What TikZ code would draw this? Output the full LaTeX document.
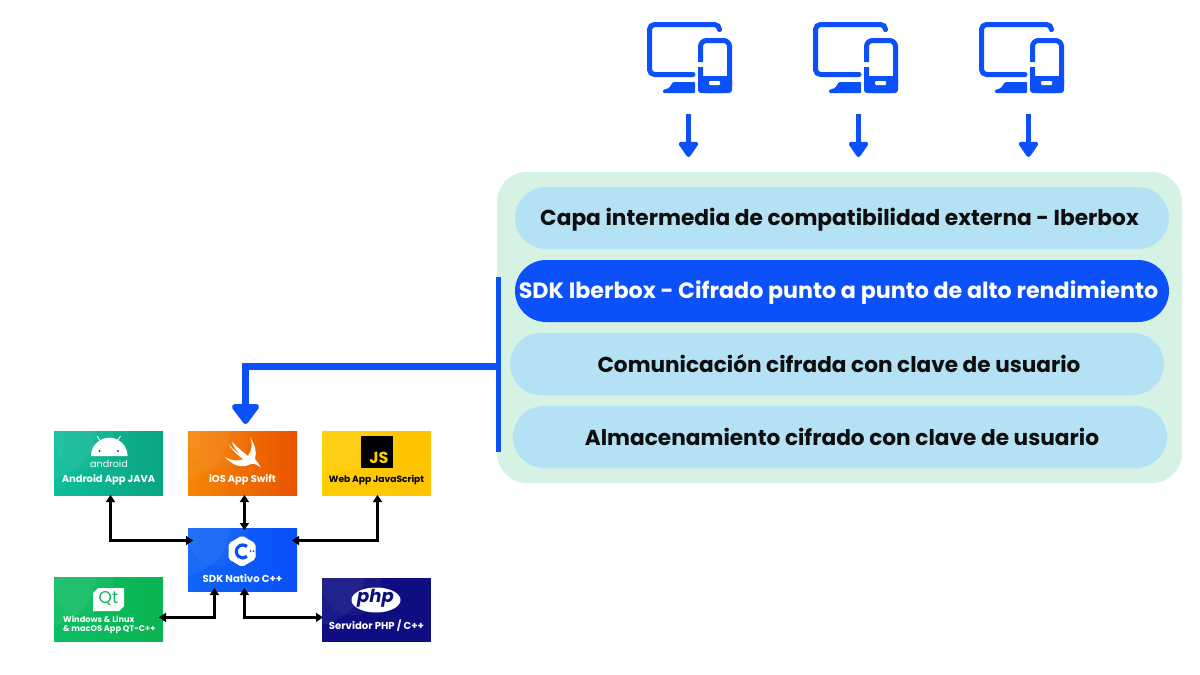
\documentclass[tikz,border=0pt]{standalone}
\usepackage{fontspec}
\setmainfont{Poppins}
\usetikzlibrary{arrows.meta,calc}
\definecolor{bluei}{HTML}{0B50F8}
\definecolor{panelg}{HTML}{D6F2E4}
\definecolor{pilll}{HTML}{B5E1F5}
\definecolor{inkd}{HTML}{0E0E0E}
\tikzset{
  x=1pt,y=-1pt,
  pill/.style={draw=none,fill=pilll,rounded corners=31pt,minimum width=654pt,minimum height=62pt,inner sep=0pt,text=inkd,text height=19pt,text depth=4pt,font=\fontsize{21.7}{24}\selectfont\bfseries},
  app/.style={draw=none,minimum width=109pt,minimum height=64pt,inner sep=0pt,
    path picture={
      \fill[white,opacity=.05] ($(path picture bounding box.north west)+(-8,-2)$) circle[radius=50pt];
      \fill[white,opacity=.04] ($(path picture bounding box.north west)+(30,8)$) circle[radius=30pt];
    }},
  lab/.style={inner sep=0pt,text=white,font=\fontsize{9.9}{11}\selectfont\bfseries},
  dbl/.style={draw=black,line width=2.8pt,{Triangle[width=9pt,length=7pt]}-{Triangle[width=9pt,length=7pt]}},
  bluearrow/.style={draw=bluei,line width=5pt,-{Triangle[width=22pt,length=17pt,round]}},
  icon/.pic={
    \draw[bluei,line width=5pt,line cap=round,rounded corners=5pt] (72.5,7.5)--(72.5,2.5)--(2.5,2.5)--(2.5,52.5)--(46,52.5);
    \fill[bluei,rounded corners=1pt] (16,68)--(16,71)--(48,71)--(48,60)--(26,60)--(22,66)--cycle;
    \draw[bluei,line width=5pt,rounded corners=6pt] (53.5,40)--(53.5,18.5)--(82.5,18.5)--(82.5,68.5)--(53.5,68.5)--(53.5,45);
    \fill[bluei,rounded corners=3pt] (51,54)rectangle(85,71);
    \fill[white,rounded corners=1pt] (62,59)rectangle(73,63);
  },
}
\begin{document}
\begin{tikzpicture}
\useasboundingbox (0,0) rectangle (1200,675);
\fill[white] (0,0) rectangle (1200,675);
% panel and pills
\node[draw=none,fill=panelg,rounded corners=30pt,minimum width=685pt,minimum height=311pt,inner sep=0pt] (panel) at (839.5,327.5) {};
\node[pill] (p1) at (842,218) {\kern-5pt Capa intermedia de compatibilidad externa - Iberbox};
\node[pill,fill=bluei,text=white,font=\fontsize{22.2}{24}\selectfont\bfseries] (p2) at (842,291) {\kern-7pt SDK Iberbox - Cifrado punto a punto de alto rendimiento};
\node[pill,text height=21pt,font=\fontsize{21.6}{24}\selectfont\bfseries] (p3) at (837,364) {\kern4pt Comunicación cifrada con clave de usuario};
\node[pill,text height=21pt,font=\fontsize{21.65}{24}\selectfont\bfseries] (p4) at (840,437) {\kern4pt Almacenamiento cifrado con clave de usuario};
% device icons
\path (647,22) pic {icon};
\path (813,22) pic {icon};
\path (979,22) pic {icon};
\coordinate (d1) at (688.5,114); \coordinate (t1) at (688.5,157);
\coordinate (d2) at (858.5,114); \coordinate (t2) at (858.5,157);
\coordinate (d3) at (1028.5,114); \coordinate (t3) at (1028.5,157);
\draw[bluearrow] (d1)--(t1);
\draw[bluearrow] (d2)--(t2);
\draw[bluearrow] (d3)--(t3);
% apps
\node[app,shading=axis,left color={rgb,255:red,14;green,190;blue,155},right color={rgb,255:red,10;green,165;blue,130}] (android) at (108.5,463) {};
\node[app,shading=axis,left color={rgb,255:red,245;green,135;blue,5},right color={rgb,255:red,232;green,84;blue,0}] (ios) at (242.5,463) {};
\node[app,shading=axis,left color={rgb,255:red,255;green,205;blue,0},right color={rgb,255:red,255;green,195;blue,0}] (web) at (376.5,463) {};
\node[app,shading=axis,left color={rgb,255:red,15;green,100;blue,245},right color={rgb,255:red,10;green,80;blue,250},minimum height=63pt] (sdk) at (242.5,559.5) {};
\node[app,shading=axis,left color={rgb,255:red,12;green,190;blue,100},right color={rgb,255:red,10;green,180;blue,80}] (qt) at (108.5,609.5) {};
\node[app,fill={rgb,255:red,14;green,14;blue,130}] (php) at (376.5,609.5) {};
% android icon
\fill[white] (91,456) arc[start angle=180,end angle=0,radius=18.3pt] --cycle;
\draw[white,line width=.9pt] (97,436)--(101,442) (120.5,436)--(116.5,442);
\fill[teal!70!black] (99.5,451) circle[radius=1.2pt] (118,451) circle[radius=1.2pt];
\node[inner sep=0pt,text=white,font=\fontsize{9.6}{11}\selectfont] (andword) at (109,463.5) {android};
\node[lab] (andlab) at (108.5,479.5) {Android App JAVA};
% swift icon
\fill[white] (250,437) .. controls (255,445) and (257,452) .. (255,459) .. controls (258,463) and (260,465) .. (260.5,467.5) .. controls (256,463) and (252,463) .. (247,465.5) .. controls (240,468) and (231,464) .. (225,457) .. controls (232,461) and (238,461.5) .. (243,459) .. controls (236,454) and (230,447) .. (229,445) .. controls (234,450) and (239,454) .. (240,454) .. controls (236,450) and (233,446) .. (232,442) .. controls (238,448) and (243,452) .. (248,456) .. controls (252,450) and (253,444) .. (250,437) -- cycle;
\node[lab] (ioslab) at (242.5,479.5) {iOS App Swift};
% js icon
\node[fill=black,minimum size=32pt,inner sep=0pt] (jsbox) at (376.5,452) {};
\node[inner sep=0pt,text={rgb,255:red,255;green,205;blue,0},font=\fontsize{16}{17}\selectfont\bfseries] (jstxt) at (379,458) {JS};
\node[lab,text=black,font=\fontsize{9.1}{11}\selectfont\bfseries] (weblab) at (376.5,480) {Web App JavaScript};
% cpp icon
\fill[white,rounded corners=2pt] (242,535.5)--(255.5,543.5)--(255.5,559)--(242,567)--(228.5,559)--(228.5,543.5)--cycle;
\draw[bluei,line width=3.2pt] (247,546.5) arc[start angle=50,end angle=310,radius=6.5pt];
\fill[bluei] (250.5,551) circle[radius=1pt] (253.5,551) circle[radius=1pt];
\node[lab,font=\fontsize{10.1}{11}\selectfont\bfseries] (sdklab) at (242.5,578.5) {SDK Nativo C++};
% qt icon
\fill[white] (98,588)--(124,588)--(124,606)--(119,611)--(93,611)--(93,593)--cycle;
\node[inner sep=0pt,text={rgb,255:red,12;green,185;blue,95},font=\fontsize{17}{18}\selectfont] (qttxt) at (108.5,599) {Qt};
\node[lab,font=\fontsize{8.2}{9}\selectfont\bfseries,align=left,anchor=west] (qtlab) at (63,624.5) {Windows \& Linux\\\& macOS App QT-C++};
% php icon
\fill[white] (376,600) ellipse[x radius=24.5pt,y radius=12.5pt];
\node[inner sep=0pt,text={rgb,255:red,14;green,14;blue,130},font=\fontsize{18}{19}\selectfont\bfseries\itshape] (phptxt) at (375.5,598.5) {php};
\node[lab,font=\fontsize{10.1}{11}\selectfont\bfseries] (phplab) at (376.5,625.5) {Servidor PHP / C++};
% connectors (black)
\coordinate (an) at (110.5,495);
\coordinate (ss) at (193,540.5);
\coordinate (iu) at (244.4,495);
\coordinate (id) at (244.4,530);
\coordinate (wn) at (377.5,495);
\coordinate (se) at (292,540.5);
\coordinate (qe) at (159,617.4);
\coordinate (sq) at (214.4,588);
\coordinate (sp) at (244.4,588);
\coordinate (pw) at (323,617.4);
\draw[dbl] (an)|-(ss);
\draw[dbl] (iu)--(id);
\draw[dbl] (wn)|-(se);
\draw[dbl] (qe)-|(sq);
\draw[dbl] (sp)|-(pw);
% blue bus
\coordinate (bt) at (498,277); \coordinate (bb) at (498,452);
\coordinate (bm) at (498,366.3); \coordinate (ia) at (245.5,424);
\draw[bluei,line width=5pt] (bt)--(bb);
\draw[bluei,line width=7pt,-{Triangle[width=31pt,length=22pt,round]}] (bm)-|(ia);
\end{tikzpicture}
\end{document}
